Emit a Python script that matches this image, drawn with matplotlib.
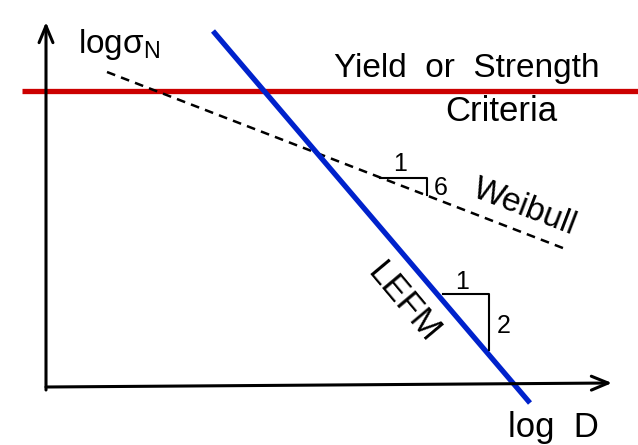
import matplotlib.pyplot as plt

# schematic size-effect diagram, coordinates in drawing units (y grows downward)
axis_origin = (46, 387)
x_axis_end = (612, 383)
y_axis_end = (46, 22)

yield_x = [22, 638]
yield_y = [91, 91]

lefm_x = [213, 530]
lefm_y = [31, 403]

weibull_x = [107, 568]
weibull_y = [72, 250]

# slope triangles: (x0, x1, y0, y1)
weibull_tri = (380, 427, 178, 195)
lefm_tri = (443, 489, 294, 350)

plt.rcParams['font.family'] = ['Liberation Sans', 'DejaVu Sans']

fig = plt.figure(figsize=(6.38, 4.45), dpi=100)
ax = fig.add_axes([0, 0, 1, 1])
ax.set_xlim(0, 638)
ax.set_ylim(445, 0)
ax.axis('off')

# axes with arrows
arrow = dict(arrowstyle='->,head_length=1.2,head_width=0.5', color='black', lw=2.2,
             shrinkA=0, shrinkB=0)
ax.annotate('', xy=x_axis_end, xytext=axis_origin, arrowprops=arrow)
ax.annotate('', xy=y_axis_end, xytext=(46, 390), arrowprops=arrow)

# criteria lines
ax.plot(yield_x, yield_y, color='#cc0000', lw=3.8, solid_capstyle='butt')
ax.plot(weibull_x, weibull_y, color='black', lw=1.8, ls=(0, (3.5, 2.5)))
ax.plot(lefm_x, lefm_y, color='#0022cc', lw=3.8, solid_capstyle='butt')

# slope triangles
x0, x1, y0, y1 = weibull_tri
ax.plot([x0, x1, x1], [y0, y0, y1], color='black', lw=1.5)
ax.text(400, 171, '1', fontsize=18, ha='center', va='baseline')
ax.text(434, 195, '6', fontsize=18, ha='left', va='baseline')

x0, x1, y0, y1 = lefm_tri
ax.plot([x0, x1, x1], [y0, y0, y1], color='black', lw=1.5)
ax.text(462, 289, '1', fontsize=18, ha='center', va='baseline')
ax.text(497, 333, '2', fontsize=18, ha='left', va='baseline')

# labels
ax.text(78, 53, r'log$\mathregular{\sigma}_\mathregular{N}$', fontsize=24, ha='left', va='baseline')
ax.text(508, 437, 'log  D', fontsize=25, ha='left', va='baseline')
ax.text(467, 77, 'Yield  or  Strength', fontsize=24, ha='center', va='baseline')
ax.text(501, 121, 'Criteria', fontsize=25, ha='center', va='baseline')
ax.text(525, 208, 'Weibull', fontsize=24, ha='center', va='center', rotation=-21,
        rotation_mode='anchor')
ax.text(403, 302, 'LEFM', fontsize=25, ha='center', va='center', rotation=-50,
        rotation_mode='anchor')

fig.savefig('out.png', dpi=100)
